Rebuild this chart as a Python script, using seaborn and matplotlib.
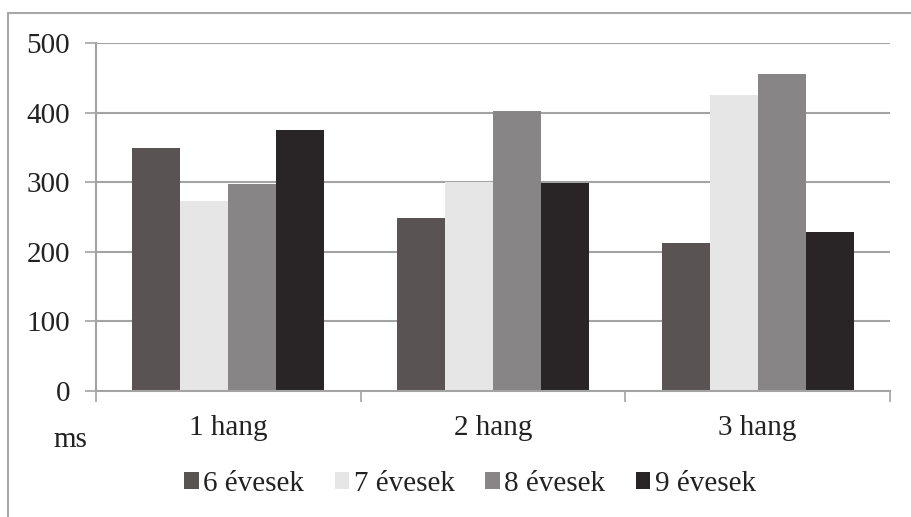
import matplotlib
matplotlib.use("Agg")
import matplotlib.pyplot as plt
import matplotlib.patches as mpatches
import seaborn as sns
import pandas as pd

# Reaction times (ms) by number of tones and age group
categories = ["1 hang", "2 hang", "3 hang"]
groups = ["6 évesek", "7 évesek", "8 évesek", "9 évesek"]
vals_6 = [349, 248, 213]
vals_7 = [273, 300, 425]
vals_8 = [297, 402, 456]
vals_9 = [375, 299, 229]
colors = ["#595354", "#e6e6e6", "#878586", "#292526"]
y_ticks = [0, 100, 200, 300, 400, 500]

rows = []
for g, vals in zip(groups, [vals_6, vals_7, vals_8, vals_9]):
    for c, v in zip(categories, vals):
        rows.append({"kategoria": c, "csoport": g, "ms": v})
df = pd.DataFrame(rows)

sns.set_theme(style="white")
plt.rcParams["font.family"] = ["Liberation Serif", "DejaVu Serif"]

FS = 21
TXT = "#222222"
W, H = 911, 517
fig = plt.figure(figsize=(W / 100, H / 100), dpi=100)
fig.patch.set_facecolor("white")
ax = fig.add_axes([96 / W, 1 - 391 / H, (890 - 96) / W, (391 - 43) / H])

grid_c = "#a3a3a3"
sns.barplot(data=df, x="kategoria", y="ms", hue="csoport", order=categories,
            hue_order=groups, palette=colors, width=0.725, gap=0,
            edgecolor="none", linewidth=0, saturation=1, ax=ax, legend=False)

ax.set_xlim(-0.5, 2.5)
ax.set_ylim(0, 500)
ax.set_yticks(y_ticks)
for yv in y_ticks[1:]:
    ax.axhline(yv, color=grid_c, lw=1.5, zorder=0)

ax.set_xticks([-0.5, 0.5, 1.5, 2.5])
ax.set_xticklabels([])
ax.set_xticks([0, 1, 2], minor=True)
ax.set_xticklabels(categories, minor=True, fontsize=FS, color=TXT)
ax.tick_params(axis="x", which="major", length=8, width=1.2, color=grid_c,
               direction="out", bottom=True)
ax.tick_params(axis="x", which="minor", length=0, pad=17)
ax.tick_params(axis="y", length=8, width=1.2, color=grid_c, direction="out",
               left=True, labelsize=FS, labelcolor=TXT, pad=10.5)
ax.set_xlabel("")
ax.set_ylabel("")
for s in ["top", "right"]:
    ax.spines[s].set_visible(False)
for s in ["left", "bottom"]:
    ax.spines[s].set_color(grid_c)
    ax.spines[s].set_linewidth(1.5)
ax.set_axisbelow(True)

fig.text(70 / W, 1 - 440 / H, "ms", fontsize=FS, color=TXT,
         ha="center", va="center")

handles = [mpatches.Patch(facecolor=c, edgecolor="none", label=g)
           for c, g in zip(colors, groups)]
fig.legend(handles=handles, loc="center", bbox_to_anchor=(470 / W, 1 - 484 / H),
           ncol=4, frameon=False, fontsize=FS, handlelength=0.5,
           handleheight=0.5, handletextpad=0.15, columnspacing=1.05,
           labelcolor=TXT, borderaxespad=0, borderpad=0)

frame = mpatches.Rectangle((8 / W, -0.05), 1.1, 1 - 13 / H + 0.05,
                           transform=fig.transFigure, fill=False,
                           edgecolor="#a8a8a8", lw=1.5)
fig.patches.append(frame)

fig.savefig("out.png", dpi=100, facecolor="white")
